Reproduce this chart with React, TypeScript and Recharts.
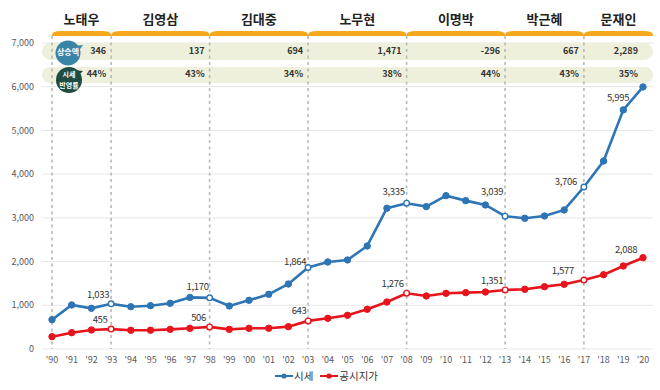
import React from 'react';
import { LineChart, Line, XAxis, YAxis, CartesianGrid, ReferenceArea, LabelList, Legend } from 'recharts';

const years = ["'90", "'91", "'92", "'93", "'94", "'95", "'96", "'97", "'98", "'99", "'00", "'01", "'02", "'03", "'04", "'05", "'06", "'07", "'08", "'09", "'10", "'11", "'12", "'13", "'14", "'15", "'16", "'17", "'18", "'19", "'20"];
const marketPrice = [670, 1007, 931, 1033, 968, 991, 1045, 1180, 1170, 984, 1114, 1251, 1487, 1864, 1991, 2037, 2357, 3220, 3335, 3257, 3508, 3394, 3295, 3039, 2990, 3043, 3181, 3706, 4300, 5470, 5995];
const officialPrice = [282, 373, 435, 455, 428, 430, 450, 473, 506, 450, 473, 475, 511, 643, 702, 771, 908, 1075, 1276, 1213, 1274, 1289, 1304, 1351, 1366, 1426, 1480, 1577, 1700, 1899, 2088];
const yTicks = [0, 1000, 2000, 3000, 4000, 5000, 6000, 7000];

const presidents = ['노태우', '김영삼', '김대중', '노무현', '이명박', '박근혜', '문재인'];
const termStart = ["'90", "'93", "'98", "'03", "'08", "'13", "'17"];
const termEnd = ["'93", "'98", "'03", "'08", "'13", "'17", "'20"];
const riseAmount = ['346', '137', '694', '1,471', '-296', '667', '2,289'];
const reflectRate = ['44%', '43%', '34%', '38%', '44%', '43%', '35%'];

const labeledYears = ["'93", "'98", "'03", "'08", "'13", "'17", "'20"];
const hollowYears = ["'93", "'98", "'03", "'08", "'13", "'17"];

const marketLabelOffset: Record<string, number[]> = {
  "'93": [-13, -8], "'98": [-12, -10], "'03": [-13, -5], "'08": [-13, -11], "'13": [-13, -24], "'17": [-18, -5], "'20": [-25, 11],
};
const officialLabelOffset: Record<string, number[]> = {
  "'93": [-11, -9], "'98": [-11, -8], "'03": [-9, -9], "'08": [-14, -9], "'13": [-13, -9], "'17": [-21, -9], "'20": [-17, -7],
};

const data = years.map((y, i) => ({ year: y, market: marketPrice[i], official: officialPrice[i] }));

const FONT = "'Noto Sans CJK KR', 'Noto Sans', sans-serif";
const BLUE = '#2e75b6';
const RED = '#e8141b';
const ORANGE = '#f5a81c';
const PILL = '#eef0dc';

const makeDot = (color: string) => (props: any) => {
  const { cx, cy, payload, index } = props;
  const hollow = hollowYears.includes(payload.year);
  return (
    <circle key={`d-${index}`} cx={cx} cy={cy} r={hollow ? 2.8 : 3.2} fill={hollow ? '#fff' : color} stroke={color} strokeWidth={hollow ? 1.4 : 1} />
  );
};

const makeLabel = (offsets: Record<string, number[]>) => (props: any) => {
  const { x, y, value, index } = props;
  const yr = years[index];
  if (!labeledYears.includes(yr)) return null;
  const [dx, dy] = offsets[yr];
  return (
    <text key={`l-${index}`} x={x + dx} y={y + dy} textAnchor="middle" dominantBaseline="middle" fontSize={9.5} fill="#333" fontFamily={FONT} letterSpacing={-0.3}>
      {Number(value).toLocaleString('en-US')}
    </text>
  );
};

const PillShape = (props: any) => {
  const { x, y, width } = props;
  const left = x - 10;
  const w = width + 20;
  return (
    <g>
      <rect x={left} y={y} width={w} height={17} rx={8.5} fill={PILL} />
      <rect x={left} y={y + 24} width={w} height={16} rx={8} fill={PILL} />
      {/* bubble 상승액 */}
      <path d={`M ${x + 22} ${y + 3} L ${x + 31} ${y + 2} L ${x + 26} ${y + 9} Z`} fill="#3a84a8" />
      <circle cx={x + 16} cy={y + 10} r={12.5} fill="#3a84a8" />
      <text x={x + 16} y={y + 10} textAnchor="middle" dominantBaseline="middle" fontSize={8} fontWeight={700} fill="#fff" fontFamily={FONT}>상승액</text>
      {/* bubble 시세 반영률 */}
      <path d={`M ${x + 22} ${y + 27} L ${x + 31} ${y + 28} L ${x + 26} ${y + 33} Z`} fill="#1f4b40" />
      <circle cx={x + 17} cy={y + 37} r={13} fill="#1f4b40" />
      <text x={x + 17} y={y + 32} textAnchor="middle" dominantBaseline="middle" fontSize={7} fontWeight={700} fill="#fff" fontFamily={FONT}>시세</text>
      <text x={x + 17} y={y + 43} textAnchor="middle" dominantBaseline="middle" fontSize={7} fontWeight={700} fill="#fff" fontFamily={FONT}>반영률</text>
    </g>
  );
};

const makeTermShape = (i: number) => (props: any) => {
  const { x, y, width, height } = props;
  const isLast = i === presidents.length - 1;
  const left = x;
  const right = x + width + (isLast ? 10 : 0);
  const top = y - 12;
  const bottom = y - 7;
  const cx = (left + right) / 2;
  const dotted = (lx: number) => (
    <line x1={lx} x2={lx} y1={y - 7} y2={y + height} stroke="#b8b8b8" strokeWidth={1.6} strokeDasharray="3 3.5" />
  );
  return (
    <g>
      <path
        d={`M ${left} ${bottom} L ${left} ${top + 4} Q ${left} ${top} ${left + 9} ${top} L ${right - 9} ${top} Q ${right} ${top} ${right} ${top + 4} L ${right} ${bottom} Z`}
        fill={ORANGE}
      />
      <text x={cx} y={y - 23} textAnchor="middle" dominantBaseline="middle" fontSize={13} fontWeight={700} fill="#222" fontFamily={FONT}>
        {presidents[i]}
      </text>
      {i === 0 ? dotted(left) : null}
      {!isLast ? dotted(x + width) : null}
      <text x={x + width - 5} y={y + 9} textAnchor="end" dominantBaseline="middle" fontSize={9} fontWeight={700} fill="#333" fontFamily={FONT}>
        {riseAmount[i]}
      </text>
      <text x={x + width - 5} y={y + 32} textAnchor="end" dominantBaseline="middle" fontSize={9} fontWeight={700} fill="#333" fontFamily={FONT}>
        {reflectRate[i]}
      </text>
    </g>
  );
};

const legendItems = [
  { name: '시세', color: BLUE },
  { name: '공시지가', color: RED },
];

const renderLegend = () => (
  <div style={{ display: 'flex', justifyContent: 'center', gap: 7, fontSize: 10.5, color: '#333', fontFamily: FONT, lineHeight: '16px', transform: 'translateY(-6px)' }}>
    {legendItems.map((s) => (
      <span key={s.name} style={{ display: 'inline-flex', alignItems: 'center' }}>
        <svg width={18} height={8}>
          <line x1={0} y1={4} x2={18} y2={4} stroke={s.color} strokeWidth={2} />
          <circle cx={9} cy={4} r={2.6} fill={s.color} />
        </svg>
        <span style={{ marginLeft: 1 }}>{s.name}</span>
      </span>
    ))}
  </div>
);

export default function App() {
  return (
    <div style={{ position: 'absolute', left: 0, top: 0, width: 660, height: 390, background: '#fff' }}>
      <LineChart width={660} height={390} data={data} margin={{ top: 43, right: 7, left: 0, bottom: 0 }}>
        <CartesianGrid vertical={false} stroke="#e6e6e6" strokeWidth={1} />
        <XAxis
          dataKey="year"
          interval={0}
          tickLine={false}
          axisLine={false}
          height={25}
          padding={{ left: 10, right: 10 }}
          tick={{ fontSize: 9, fill: '#595959', fontFamily: FONT }}
        />
        <YAxis
          domain={[0, 7000]}
          ticks={yTicks}
          width={42}
          tickLine={false}
          axisLine={false}
          tickFormatter={(v: number) => v.toLocaleString('en-US')}
          tick={{ fontSize: 9, fill: '#595959', fontFamily: FONT }}
        />
        <ReferenceArea x1={years[0]} x2={years[years.length - 1]} ifOverflow="visible" shape={PillShape} />
        {presidents.map((p, i) => (
          <ReferenceArea key={p} x1={termStart[i]} x2={termEnd[i]} ifOverflow="visible" shape={makeTermShape(i)} />
        ))}
        <Legend verticalAlign="bottom" height={16} content={renderLegend} />
        <Line type="linear" dataKey="market" name="시세" stroke={BLUE} strokeWidth={2.6} dot={makeDot(BLUE)} activeDot={false} isAnimationActive={false}>
          <LabelList dataKey="market" content={makeLabel(marketLabelOffset)} />
        </Line>
        <Line type="linear" dataKey="official" name="공시지가" stroke={RED} strokeWidth={2.6} dot={makeDot(RED)} activeDot={false} isAnimationActive={false}>
          <LabelList dataKey="official" content={makeLabel(officialLabelOffset)} />
        </Line>
      </LineChart>
    </div>
  );
}
